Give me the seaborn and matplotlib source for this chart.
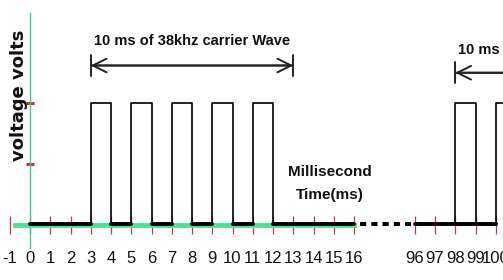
import matplotlib
matplotlib.use("Agg")
import matplotlib.pyplot as plt
import seaborn as sns
import pandas as pd

# time (ms) values; the 16..96 stretch is drawn as a short dashed break
tick_ms = list(range(-1, 17)) + [96, 97, 98, 99, 100]
pulse_start_ms = [3, 5, 7, 9, 11, 98, 100]
pulse_end_ms = [4, 6, 8, 10, 12, 99, 101]
low_start_ms = [0, 4, 6, 8, 10, 12, 96]
low_end_ms = [3, 5, 7, 9, 11, 16, 100]
gap_ms = [16, 96]
burst_start_ms = [3, 98]
burst_len_ms = [10, 10]
high_volt = 1.0
volt_ticks = [0.5, 1.0]

BREAK_AT, BREAK_END, BREAK_WIDTH = 16, 96, 3


def to_pos(ms):
    """Map ms onto the compressed x axis."""
    if ms <= BREAK_AT:
        return ms
    return ms - (BREAK_END - BREAK_AT) + BREAK_WIDTH


sns.set_theme(style="white")
plt.rcParams["font.family"] = ["Liberation Sans", "DejaVu Sans"]

fig = plt.figure(figsize=(5.03, 2.80), dpi=100)
ax = fig.add_axes([0, 0, 1, 1])

# pulse outlines
rows = []
for i, (s, e) in enumerate(zip(pulse_start_ms, pulse_end_ms)):
    for t, v in [(s, 0), (s, high_volt), (e, high_volt), (e, 0)]:
        rows.append({"pulse": i, "pos": to_pos(t), "volt": v})
pulses = pd.DataFrame(rows)
sns.lineplot(data=pulses, x="pos", y="volt", units="pulse", estimator=None,
             sort=False, color="black", lw=1.2, ax=ax, zorder=3)

# thick low level segments
rows = []
for i, (s, e) in enumerate(zip(low_start_ms, low_end_ms)):
    rows += [{"seg": i, "pos": to_pos(s), "volt": 0},
             {"seg": i, "pos": to_pos(e), "volt": 0}]
lows = pd.DataFrame(rows)
sns.lineplot(data=lows, x="pos", y="volt", units="seg", estimator=None,
             sort=False, color="black", lw=2.8, ax=ax, zorder=3)

# dashed break
ax.plot([to_pos(gap_ms[0]) + 0.3, to_pos(gap_ms[1]) - 0.2], [0, 0],
        color="black", lw=2.8, ls=(0, (1.6, 1.3)), zorder=3)

# carrier burst arrows and labels
arrow_y = [1.31, 1.25]
label_y = [1.51, 1.44]
for s, d, ya, yt in zip(burst_start_ms, burst_len_ms, arrow_y, label_y):
    for style in ["<->,head_length=0.7,head_width=0.35",
                  "|-|,widthA=0.55,widthB=0.55"]:
        ax.annotate("", xy=(to_pos(s), ya), xytext=(to_pos(s + d), ya),
                    arrowprops=dict(arrowstyle=style, lw=1.4, color="#222222",
                                    shrinkA=0, shrinkB=0, mutation_scale=14))
    ax.text((to_pos(s) + to_pos(s + d)) / 2, yt,
            f"{d} ms of 38khz carrier Wave", ha="center", va="center",
            fontsize=10.5, fontweight="bold", color="#111111")

ax.text(14.8, 0.335, "Millisecond\nTime(ms)", ha="center", va="center",
        fontsize=11, fontweight="bold", color="#111111", linespacing=1.9)

ax.text(0.038, 0.661, "voltage volts", transform=ax.transAxes, rotation=90,
        ha="center", va="center", fontsize=13, fontweight="bold",
        family="DejaVu Sans", color="#111111")

# axes
ax.set_xlim(-30 / 20.25, 473 / 20.25)
ax.set_ylim(-56 / 121, 224 / 121)
ax.set_xticks([to_pos(t) for t in tick_ms])
ax.set_xticklabels([str(t) for t in tick_ms])
ax.set_yticks(volt_ticks)
ax.tick_params(axis="x", bottom=True, direction="inout", length=13, width=0.9,
               color="#b5404a", pad=12, labelsize=12, labelcolor="#111111")
ax.tick_params(axis="y", left=True, direction="inout", length=6, width=2.2,
               color="#d42a3a", labelleft=False)
ax.set_xlabel("")
ax.set_ylabel("")

for side in ["top", "right"]:
    ax.spines[side].set_visible(False)
ax.spines["left"].set_position(("data", 0))
ax.spines["left"].set_color("#45c98a")
ax.spines["left"].set_linewidth(1.0)
ax.spines["left"].set_bounds(-0.2, 1.74)
ax.spines["bottom"].set_position(("data", -0.012))
ax.spines["bottom"].set_color("#4be38f")
ax.spines["bottom"].set_linewidth(3.5)
ax.spines["bottom"].set_bounds(-0.75, 16)

fig.savefig("out.png", dpi=100)
plt.close(fig)
